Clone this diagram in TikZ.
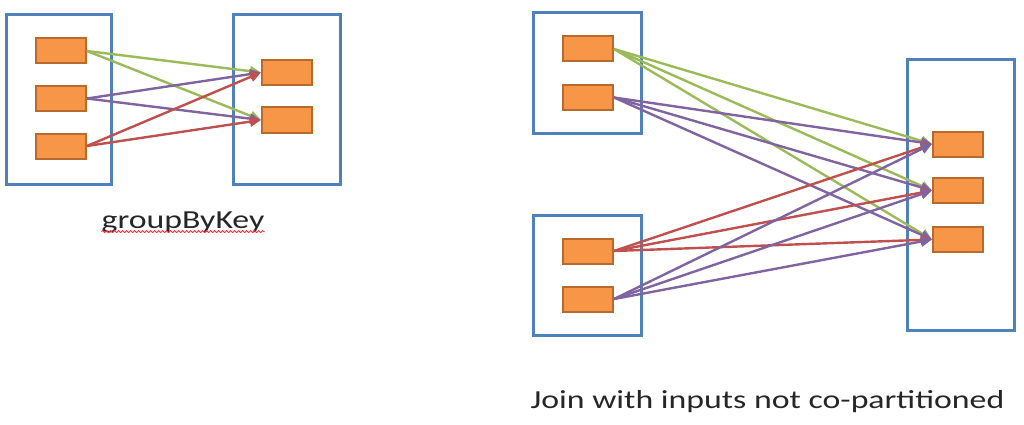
\documentclass[tikz,border=0pt]{standalone}
\usepackage{fontspec}
\setmainfont{Carlito}
\usetikzlibrary{arrows.meta,decorations.pathmorphing}
\definecolor{boxblue}{HTML}{4F81BD}
\definecolor{orfill}{HTML}{F79646}
\definecolor{ordraw}{HTML}{B7692E}
\definecolor{lgreen}{HTML}{9BBB59}
\definecolor{lpurple}{HTML}{8064A2}
\definecolor{lred}{HTML}{C0504D}
\begin{document}
\begin{tikzpicture}[x=1pt,y=-1pt,
  outer/.style={draw=boxblue,line width=3pt,rectangle,inner sep=0pt},
  item/.style={draw=ordraw,fill=orfill,line width=2pt,rectangle,inner sep=0pt,minimum width=50pt,minimum height=25pt},
  conn/.style={line width=2.4pt,-{Triangle[length=11pt,width=10pt]}},
  lbl/.style={font=\fontsize{26}{30}\selectfont,text=black!85,inner sep=0pt}]
\useasboundingbox (0,0) rectangle (1024,425);
% left diagram
\node[outer,minimum width=105pt,minimum height=169pt] (LA) at (58.5,99.5) {};
\node[outer,minimum width=107pt,minimum height=169pt] (LB) at (286.5,99.5) {};
\node[item] (a1) at (61,51) {};
\node[item] (a2) at (61,98.5) {};
\node[item] (a3) at (61,146) {};
\node[item] (b1) at (287,72.5) {};
\node[item] (b2) at (287,120) {};
\draw[conn,lgreen] (a1.east) -- (b1.west);
\draw[conn,lgreen] (a1.east) -- (b2.west);
\draw[conn,lpurple] (a2.east) -- (b1.west);
\draw[conn,lpurple] (a2.east) -- (b2.west);
\draw[conn,lred] (a3.east) -- (b1.west);
\draw[conn,lred] (a3.east) -- (b2.west);
\node[lbl,xscale=1.3] (g) at (183,222) {groupByKey};
\draw[red!80,line width=0.8pt,decorate,decoration={snake,amplitude=1pt,segment length=4pt}] ([yshift=-3.5pt]g.base west) -- ([yshift=-3.5pt]g.base east);
% right diagram
\node[outer,minimum width=108pt,minimum height=120pt] (TA) at (587,73) {};
\node[outer,minimum width=108pt,minimum height=120pt] (BA) at (587,275) {};
\node[outer,minimum width=107pt,minimum height=270pt] (RA) at (960.5,195) {};
\node[item] (t1) at (588,49) {};
\node[item] (t2) at (588,97.5) {};
\node[item] (u1) at (588,251) {};
\node[item] (u2) at (588,299) {};
\node[item] (r1) at (958,144) {};
\node[item] (r2) at (958,190.5) {};
\node[item] (r3) at (958,239.5) {};
\foreach \s/\c in {t1/lgreen,t2/lpurple,u1/lred,u2/lpurple}{
  \foreach \t in {r1,r2,r3}{
    \draw[conn,\c] (\s.east) -- (\t.west);
  }
}
\node[lbl,xscale=1.3] (j) at (767.5,402) {Join with inputs not co-partitioned};
\end{tikzpicture}
\end{document}
